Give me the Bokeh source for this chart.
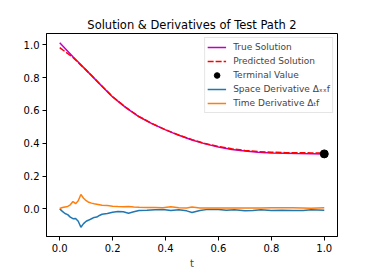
from bokeh.plotting import figure
from bokeh.embed import file_html
from bokeh.resources import INLINE
from bokeh.models import FixedTicker, NumeralTickFormatter, Range1d, Legend, LegendItem

# ---- data ----
t_sol = [0.0, 0.05, 0.10, 0.15, 0.20, 0.25, 0.30, 0.35, 0.40, 0.45, 0.50,
         0.55, 0.60, 0.65, 0.70, 0.75, 0.80, 0.85, 0.90, 0.95, 1.00]
true_sol = [1.012, 0.927, 0.845, 0.763, 0.682, 0.617, 0.561, 0.518, 0.481, 0.448, 0.420,
            0.396, 0.377, 0.362, 0.352, 0.345, 0.341, 0.339, 0.337, 0.336, 0.335]
pred_sol = [0.982, 0.922, 0.845, 0.764, 0.683, 0.618, 0.562, 0.519, 0.482, 0.450, 0.422,
            0.398, 0.380, 0.366, 0.356, 0.349, 0.345, 0.343, 0.342, 0.341, 0.341]
t_terminal = [1.0]
terminal_value = [0.335]

t_deriv = [0.0, 0.01, 0.02, 0.03, 0.04, 0.05, 0.06, 0.07, 0.08, 0.09, 0.10, 0.11, 0.12,
           0.13, 0.14, 0.15, 0.16, 0.18, 0.20, 0.22, 0.24, 0.26, 0.28, 0.30, 0.33, 0.36,
           0.39, 0.42, 0.45, 0.48, 0.50, 0.53, 0.56, 0.60, 0.63, 0.66, 0.70, 0.73, 0.76,
           0.80, 0.84, 0.88, 0.92, 0.95, 1.0]
space_deriv = [0.0, -0.015, -0.028, -0.035, -0.05, -0.06, -0.058, -0.075, -0.112, -0.09,
               -0.075, -0.068, -0.06, -0.052, -0.05, -0.04, -0.033, -0.028, -0.02, -0.016,
               -0.018, -0.026, -0.018, -0.01, -0.008, -0.005, -0.004, -0.01, -0.006, -0.012,
               -0.022, -0.01, -0.003, -0.004, -0.008, -0.005, -0.012, -0.01, -0.006, -0.01,
               -0.008, -0.01, -0.01, -0.005, -0.008]
time_deriv = [0.002, 0.008, 0.012, 0.015, 0.025, 0.045, 0.032, 0.05, 0.088, 0.065,
              0.05, 0.04, 0.035, 0.031, 0.028, 0.025, 0.022, 0.02, 0.016, 0.014,
              0.013, 0.015, 0.012, 0.01, 0.009, 0.008, 0.007, 0.013, 0.007, 0.006,
              0.011, 0.006, 0.006, 0.005, 0.006, 0.006, 0.006, 0.006, 0.006, 0.007,
              0.007, 0.007, 0.006, 0.004, 0.007]

x_ticks = [0.0, 0.2, 0.4, 0.6, 0.8, 1.0]
y_ticks = [0.0, 0.2, 0.4, 0.6, 0.8, 1.0]
title_text = "Solution & Derivatives of Test Path 2"
x_label = "t"

FONT = "DejaVu Sans"

all_y = true_sol + pred_sol + space_deriv + time_deriv + terminal_value
ymin, ymax = min(all_y), max(all_y)
ypad = 0.05 * (ymax - ymin)

p = figure(width=374, height=271, output_backend="svg", toolbar_location=None,
           x_range=Range1d(-0.05, 1.05), y_range=Range1d(ymin - ypad, ymax + ypad),
           min_border_left=46, min_border_right=37, min_border_top=33, min_border_bottom=33)

p.title.text = title_text
p.title.align = "center"
p.title.text_font = FONT
p.title.text_font_size = "11.5px"
p.title.text_font_style = "normal"
p.title.text_color = "#000000"
p.title.standoff = 4

p.xgrid.visible = False
p.ygrid.visible = False
p.outline_line_color = "#000000"
p.outline_line_width = 1
p.background_fill_color = "white"
p.border_fill_color = "white"

for ax in (p.xaxis[0], p.yaxis[0]):
    ax.major_label_text_font = FONT
    ax.major_label_text_font_size = "10px"
    ax.major_label_text_color = "#000000"
    ax.axis_line_color = "#000000"
    ax.major_tick_line_color = "#000000"
    ax.major_tick_out = 4
    ax.major_tick_in = 0
    ax.minor_tick_line_color = None
    ax.formatter = NumeralTickFormatter(format="0.0")
    ax.major_label_standoff = 3

p.xaxis.ticker = FixedTicker(ticks=x_ticks)
p.yaxis.ticker = FixedTicker(ticks=y_ticks)
p.xaxis.axis_label = x_label
p.xaxis.axis_label_text_font = FONT
p.xaxis.axis_label_text_font_size = "10px"
p.xaxis.axis_label_text_font_style = "normal"
p.xaxis.axis_label_standoff = 3

r_true = p.line(t_sol, true_sol, line_color="#bf00bf", line_width=1.5)
r_pred = p.line(t_sol, pred_sol, line_color="#ff0000", line_width=1.5, line_dash="6 2")
r_term = p.scatter(t_terminal, terminal_value, size=8, marker="circle",
                   fill_color="#000000", line_color="#000000")
r_space = p.line(t_deriv, space_deriv, line_color="#1f77b4", line_width=1.5)
r_time = p.line(t_deriv, time_deriv, line_color="#ff7f0e", line_width=1.5)

legend = Legend(items=[
    LegendItem(label="True Solution", renderers=[r_true]),
    LegendItem(label="Predicted Solution", renderers=[r_pred]),
    LegendItem(label="Terminal Value", renderers=[r_term]),
    LegendItem(label="Space Derivative Δₓₓf", renderers=[r_space]),
    LegendItem(label="Time Derivative Δₜf", renderers=[r_time]),
], location="top_right")
legend.label_text_font = FONT
legend.label_text_font_size = "9px"
legend.label_height = 14
legend.glyph_height = 14
legend.glyph_width = 19
legend.label_standoff = 7
legend.spacing = 0
legend.padding = 2
legend.margin = 4
legend.border_line_color = "#cccccc"
legend.background_fill_alpha = 0.8
p.add_layout(legend)

open("out.html", "w").write(file_html(p, INLINE))
